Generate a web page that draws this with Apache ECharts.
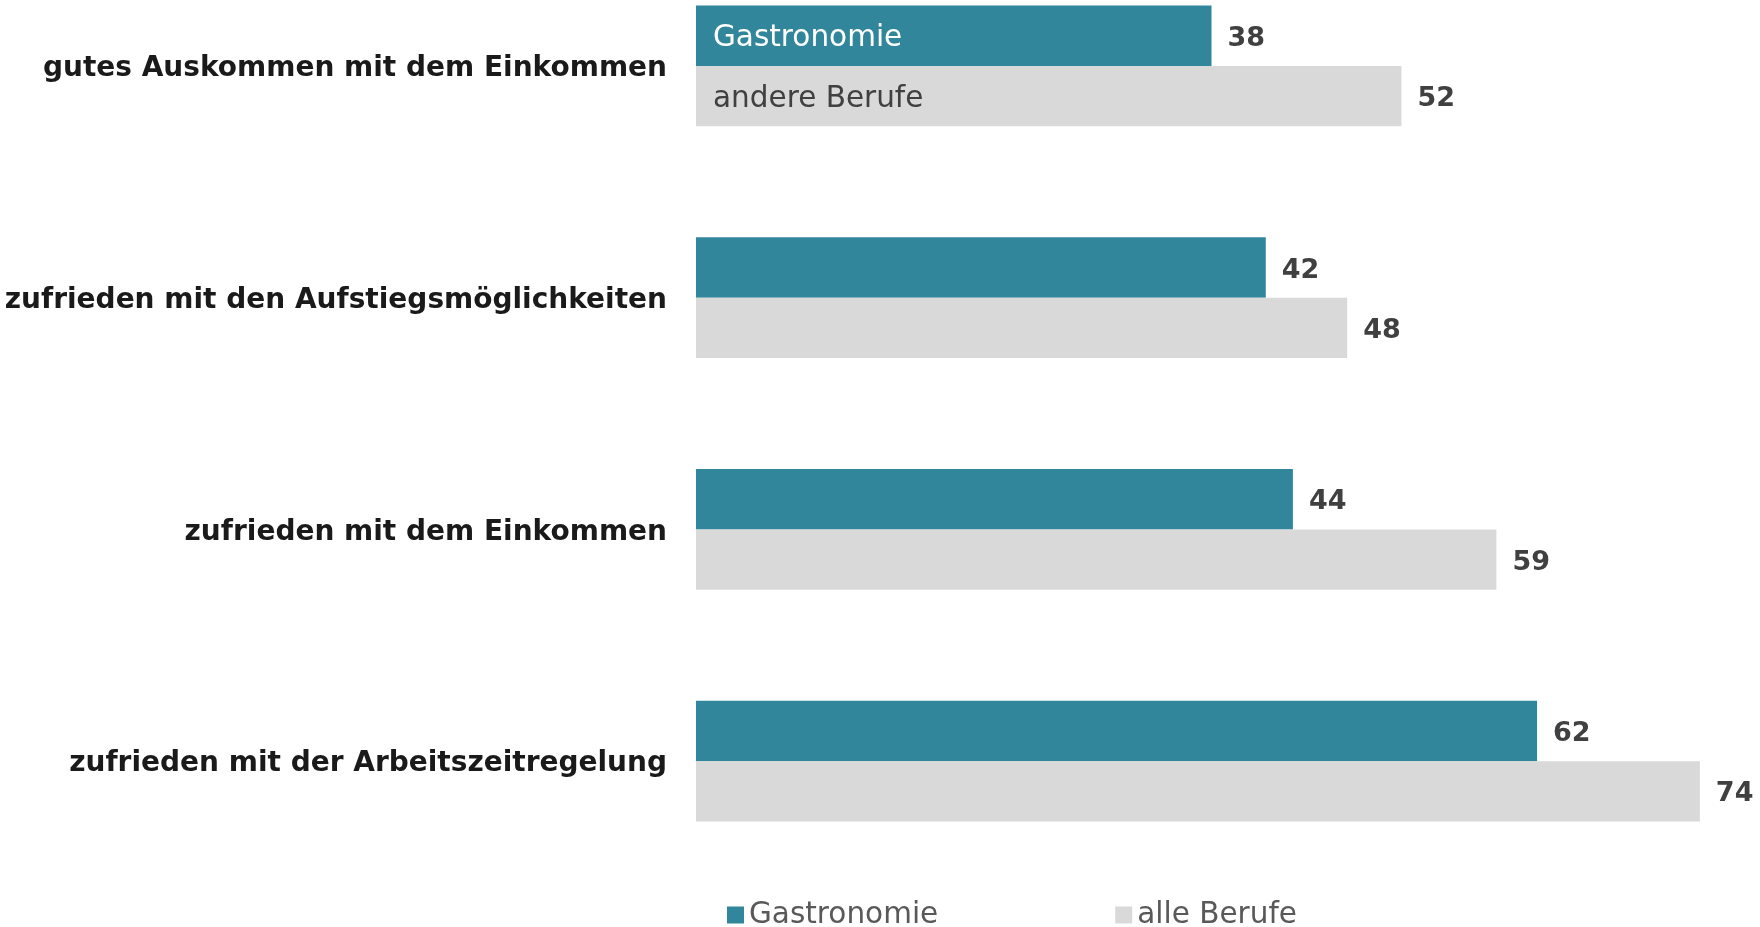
<!DOCTYPE html>
<html>
<head>
<meta charset="utf-8">
<script src="https://cdn.jsdelivr.net/npm/echarts@6/dist/echarts.min.js"></script>
<style>
  html, body { margin: 0; padding: 0; background: #fff; }
  #chart { width: 1760px; height: 927px; }
</style>
</head>
<body>
<div id="chart"></div>
<script>
var categories = [
    'gutes Auskommen mit dem Einkommen',
    'zufrieden mit den Aufstiegsmöglichkeiten',
    'zufrieden mit dem Einkommen',
    'zufrieden mit der Arbeitszeitregelung'
];
var gastronomie = [38, 42, 44, 62];
var alleBerufe = [52, 48, 59, 74];
var seriesNames = ['Gastronomie', 'alle Berufe'];
var innerNames = ['Gastronomie', 'andere Berufe'];

var teal = '#31869b',
    grey = '#d9d9d9',
    font = "'DejaVu Sans', sans-serif";

var myChart = echarts.init(document.getElementById('chart'));

// label in the first bar of each series, drawn by a transparent copy on a hidden axis
function innerLabel(name, color) {
    return {
        show: true,
        position: 'insideLeft',
        distance: 17,
        offset: [0, 3],
        color: color,
        fontFamily: font,
        fontSize: 29.5,
        fontWeight: 'normal',
        formatter: function (p) {
            return p.dataIndex === 0 ? name : '';
        }
    };
}

function valueLabel() {
    return {
        show: true,
        position: 'right',
        distance: 16,
        offset: [0, 3],
        color: '#404040',
        fontFamily: font,
        fontSize: 27,
        fontWeight: 'bold'
    };
}

var option = {
    animation: false,
    grid: {
        left: 696,
        right: 33,
        top: -50,
        bottom: 50,
        outerBoundsMode: 'none'
    },
    legend: {
        data: seriesNames,
        left: 722,
        top: 895,
        itemWidth: 17,
        itemHeight: 17,
        itemGap: 177,
        icon: 'rect',
        textStyle: {
            color: '#595959',
            fontFamily: font,
            fontSize: 29.5,
            fontWeight: 'normal'
        }
    },
    xAxis: {
        type: 'value',
        min: 0,
        max: 76,
        show: false
    },
    yAxis: [{
        type: 'category',
        data: categories,
        inverse: true,
        axisLine: { show: false },
        axisTick: { show: false },
        axisLabel: {
            margin: 29,
            formatter: function (v) {
                return '{c|' + v + '}';
            },
            rich: {
                c: {
                    padding: [6, 0, 0, 0],
                    color: '#1a1a1a',
                    fontFamily: font,
                    fontSize: 28,
                    fontWeight: 'bold'
                }
            }
        }
    }, {
        type: 'category',
        data: categories,
        inverse: true,
        show: false
    }],
    series: [{
        name: seriesNames[0],
        type: 'bar',
        data: gastronomie,
        itemStyle: { color: teal },
        barGap: '0%',
        barCategoryGap: '48%',
        label: valueLabel()
    }, {
        name: seriesNames[1],
        type: 'bar',
        data: alleBerufe,
        itemStyle: { color: grey },
        barGap: '0%',
        barCategoryGap: '48%',
        label: valueLabel()
    }, {
        name: 'inner1',
        type: 'bar',
        yAxisIndex: 1,
        data: gastronomie,
        silent: true,
        itemStyle: { color: 'rgba(0,0,0,0)' },
        barGap: '0%',
        barCategoryGap: '48%',
        label: innerLabel(innerNames[0], '#ffffff')
    }, {
        name: 'inner2',
        type: 'bar',
        yAxisIndex: 1,
        data: alleBerufe,
        silent: true,
        itemStyle: { color: 'rgba(0,0,0,0)' },
        barGap: '0%',
        barCategoryGap: '48%',
        label: innerLabel(innerNames[1], '#404040')
    }]
};

option && myChart.setOption(option);
</script>
</body>
</html>
